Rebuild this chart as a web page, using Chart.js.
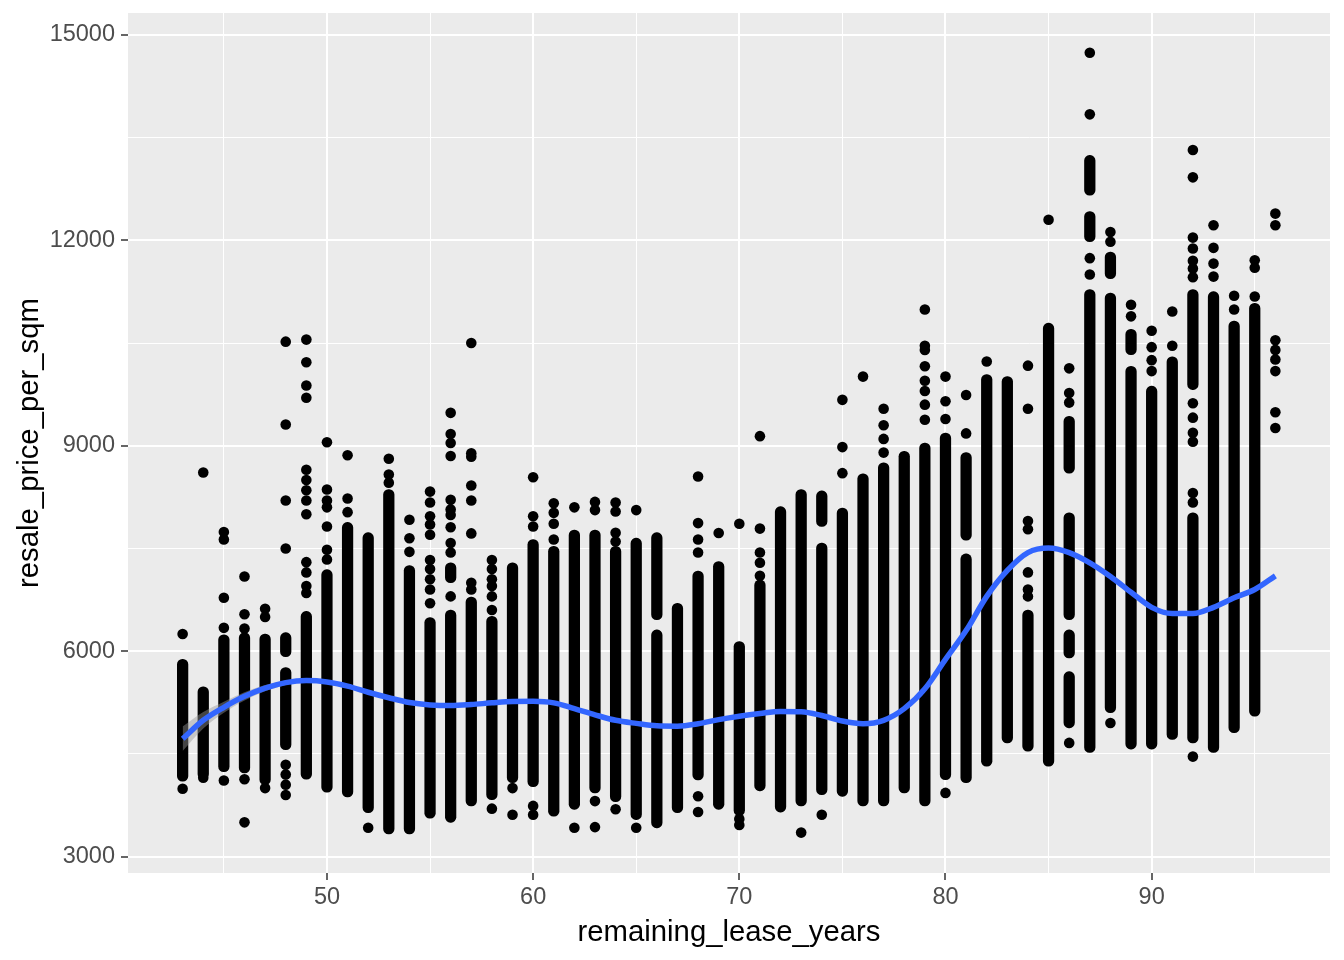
<!DOCTYPE html>
<html lang="en">
<head>
<meta charset="UTF-8">
<title>resale_price_per_sqm vs remaining_lease_years</title>
<script src="https://cdn.jsdelivr.net/npm/chart.js"></script>
<style>
  body { margin: 0; background: #fff; }
</style>
</head>
<body>
<canvas id="chart" width="1344" height="960"></canvas>
<script>
// dense vertical runs of points (one entry per run, x can repeat)
const segX  = [43, 44, 45, 46, 47, 48, 48, 49, 50, 51, 52, 53, 54, 55, 56, 56, 57, 58, 59, 60,
               61, 62, 63, 64, 65, 66, 66, 67, 68, 69, 70, 71, 72, 73, 74, 74, 75, 76, 77, 78,
               79, 80, 81, 81, 82, 83, 84, 85, 86, 86, 86, 86, 87, 87, 87, 88, 88, 89, 89, 90,
               91, 92, 92, 93, 94, 95];
const segLo = [4100, 4130, 4240, 4220, 4050, 4560, 5920, 4130, 3940, 3870, 3640, 3330, 3330, 3560, 3500, 7000, 3740, 3830, 4080, 4020,
               3590, 3690, 3930, 3800, 3540, 3420, 6460, 3640, 4120, 3690, 3600, 3960, 3650, 3740, 3905, 7820, 3880, 3740, 3740, 3930,
               3740, 4124, 4080, 7620, 4320, 4660, 4540, 4320, 4880, 5900, 6460, 8600, 4520, 11980, 12660, 5100, 11440, 4570, 10330, 4570,
               4710, 4660, 9820, 4520, 4810, 5050];
const segHi = [5880, 5480, 6240, 6270, 6250, 5760, 6270, 6580, 7190, 7880, 7730, 8360, 7250, 6490, 6600, 7290, 6790, 6510, 7290, 7630,
               7530, 7770, 7770, 7530, 7650, 6310, 7730, 6700, 7170, 7310, 6140, 7040, 8110, 8360, 7580, 8340, 8090, 8590, 8750, 8920,
               9040, 9185, 7420, 8900, 10040, 10010, 6600, 10790, 5700, 6310, 8020, 9430, 11280, 12420, 13240, 11230, 11830, 10160, 10700, 9870,
               10300, 8020, 11280, 11250, 10820, 11080];

// isolated points, grouped by x
const outX = [43, 44, 45, 46, 47, 48, 49, 50, 51, 52, 53, 54, 55, 56, 57, 58, 59, 60, 61, 62, 63, 64, 65,
              68, 69, 70, 71, 73, 74, 75, 76, 77, 79, 80, 81, 82, 84, 85, 86, 87, 88, 89, 90, 91, 92, 93, 94, 95, 96];
const outY = [
  [6250, 3990],
  [8610, 4150],
  [7740, 7630, 6780, 6340, 4110],
  [7090, 6540, 6330, 4130, 3500],
  [6620, 6500, 4000],
  [10520, 9310, 8200, 7500, 4340, 4200, 4050, 3900],
  [10550, 10220, 9880, 9700, 8650, 8500, 8350, 8200, 8000, 7300, 7150, 6950, 6850],
  [9050, 8360, 8200, 8100, 7820, 7480, 7340],
  [8860, 8230, 8030],
  [3420],
  [8810, 8580, 8460],
  [7920, 7650, 7450],
  [8330, 8170, 7970, 7850, 7700, 7330, 7200, 7050, 6900, 6700],
  [9480, 9170, 9040, 8850, 8210, 8070, 7990, 7810, 7580, 7440, 6800],
  [10500, 8890, 8840, 8420, 8200, 7720, 7000, 6900],
  [7330, 7200, 7050, 6950, 6800, 6600, 3700],
  [4000, 3610],
  [8540, 7970, 7820, 3740, 3610],
  [8160, 8020, 7860, 7630],
  [8100, 3420],
  [8180, 8060, 3810, 3430],
  [8170, 8040, 7730, 7600, 3690],
  [8060, 3420],
  [8550, 7870, 7630, 7440, 3880, 3650],
  [7725],
  [7860, 3550, 3460],
  [9140, 7790, 7440, 7290, 7100],
  [3350],
  [3610],
  [9670, 8980, 8600],
  [10010],
  [9540, 9300, 9100, 8900],
  [10990, 10460, 10400, 10160, 9950, 9800, 9600, 9380],
  [10010, 9650, 9390, 3930],
  [9740, 9180],
  [10230],
  [10170, 9540, 7900, 7780, 7150, 6900, 6800],
  [12300],
  [10130, 9770, 9630, 4660],
  [14740, 13840, 11740, 11500],
  [12120, 11980, 4950],
  [11060, 10890],
  [10680, 10440, 10250, 10090],
  [10960, 10460],
  [13320, 12920, 12040, 11880, 11700, 11590, 11460, 9620, 9410, 9190, 9060, 8310, 8170, 4460],
  [12220, 11890, 11660, 11470],
  [11190, 10990],
  [11710, 11600, 11180],
  [12390, 12220, 10540, 10400, 10260, 10090, 9490, 9260]
];

// loess smooth
const smoothX = [43, 44, 45, 46, 47, 48, 49, 50, 51, 52, 53, 54, 55, 56, 57, 58, 59, 60, 61, 62, 63, 64, 65, 66, 67,
                 68, 69, 70, 71, 72, 73, 74, 75, 76, 77, 78, 79, 80, 81, 82, 83, 84, 85, 86, 87, 88, 89, 90, 91, 92, 93, 94, 95, 96];
const smoothY = [4720, 4990, 5180, 5340, 5460, 5540, 5570, 5550, 5490, 5400, 5320, 5250, 5215, 5205, 5220, 5245, 5265, 5268, 5245, 5160, 5070, 4990, 4945, 4910, 4905,
                 4940, 5000, 5050, 5090, 5120, 5115, 5060, 4980, 4940, 4990, 5160, 5450, 5880, 6300, 6800, 7180, 7440, 7506, 7440, 7290, 7090, 6860, 6640, 6550, 6550, 6640, 6780, 6900, 7100];
// confidence band, visible at the left end
const bandX  = [43, 44, 45, 46, 47, 48];
const bandHi = [4900, 5110, 5260, 5400, 5505, 5575];
const bandLo = [4540, 4870, 5100, 5280, 5415, 5505];

const xTicks = [45, 50, 55, 60, 65, 70, 75, 80, 85, 90, 95];
const yTicks = [3000, 4500, 6000, 7500, 9000, 10500, 12000, 13500, 15000];

const segData = segX.map((x, i) => ({ x: x, y: [segLo[i], segHi[i]] }));
const ptData = [];
outX.forEach((x, i) => outY[i].forEach(y => ptData.push({ x: x, y: y })));
const lineData = smoothX.map((x, i) => ({ x: x, y: smoothY[i] }));

const panelBg = {
  id: 'panelBg',
  beforeDraw(chart) {
    const a = chart.chartArea, c = chart.ctx;
    c.save();
    c.fillStyle = '#EBEBEB';
    c.fillRect(a.left, a.top, a.right - a.left, a.bottom - a.top);
    c.restore();
  }
};

const isMajorX = v => v % 10 === 0;
const isMajorY = v => v % 3000 === 0;
const tickFont = { family: 'Liberation Sans', size: 23.5 };
const titleFont = { family: 'Liberation Sans', size: 29.3 };

new Chart(document.getElementById('chart'), {
  type: 'bar',
  data: {
    datasets: [
      {
        type: 'line', data: lineData, order: 0,
        borderColor: '#3366FF', borderWidth: 5.5, pointRadius: 0,
        cubicInterpolationMode: 'monotone', fill: false
      },
      {
        type: 'line', data: bandX.map((x, i) => ({ x: x, y: bandHi[i] })), order: 1,
        borderWidth: 0, pointRadius: 0, fill: '+1', backgroundColor: 'rgba(153,153,153,0.45)',
        cubicInterpolationMode: 'monotone'
      },
      {
        type: 'line', data: bandX.map((x, i) => ({ x: x, y: bandLo[i] })), order: 1,
        borderWidth: 0, pointRadius: 0, fill: false,
        cubicInterpolationMode: 'monotone'
      },
      {
        type: 'scatter', data: ptData, order: 2,
        pointRadius: 5.3, backgroundColor: '#000', borderWidth: 0
      },
      {
        type: 'bar', data: segData, order: 3,
        backgroundColor: '#000', barThickness: 10.6, borderRadius: 5.3,
        borderSkipped: false, grouped: false
      }
    ]
  },
  options: {
    responsive: false,
    animation: false,
    devicePixelRatio: 1,
    layout: { padding: { left: 0, right: 14, top: 13, bottom: 0 } },
    plugins: { legend: { display: false }, tooltip: { enabled: false } },
    scales: {
      x: {
        type: 'linear', min: 40.35, max: 98.65, offset: false,
        afterBuildTicks: s => { s.ticks = xTicks.map(v => ({ value: v })); },
        afterFit: s => { s.height = 87; s.paddingLeft = 0; s.paddingRight = 0; },
        border: { display: false },
        grid: {
          offset: false,
          color: '#FFFFFF',
          lineWidth: c => isMajorX(c.tick.value) ? 2 : 1,
          tickLength: 7,
          tickWidth: 1.5,
          tickColor: c => isMajorX(c.tick.value) ? '#333333' : 'rgba(0,0,0,0)'
        },
        ticks: {
          autoSkip: false, maxRotation: 0, padding: 3,
          color: '#4D4D4D', font: tickFont,
          callback: v => isMajorX(v) ? String(v) : ''
        },
        title: {
          display: true, text: 'remaining_lease_years', color: '#000',
          font: titleFont, padding: { top: 0, bottom: 10 }
        }
      },
      y: {
        type: 'linear', min: 2760, max: 15320,
        afterBuildTicks: s => { s.ticks = yTicks.map(v => ({ value: v })); },
        afterFit: s => { s.width = 128; s.paddingTop = 0; s.paddingBottom = 0; },
        border: { display: false },
        grid: {
          color: '#FFFFFF',
          lineWidth: c => isMajorY(c.tick.value) ? 2 : 1,
          tickLength: 7,
          tickWidth: 1.5,
          tickColor: c => isMajorY(c.tick.value) ? '#333333' : 'rgba(0,0,0,0)'
        },
        ticks: {
          autoSkip: false, padding: 6,
          color: '#4D4D4D', font: tickFont,
          callback: v => isMajorY(v) ? String(v) : ''
        },
        title: {
          display: true, text: 'resale_price_per_sqm', color: '#000',
          font: titleFont, padding: { top: 12, bottom: 0 }
        }
      }
    }
  },
  plugins: [panelBg]
});
</script>
</body>
</html>
